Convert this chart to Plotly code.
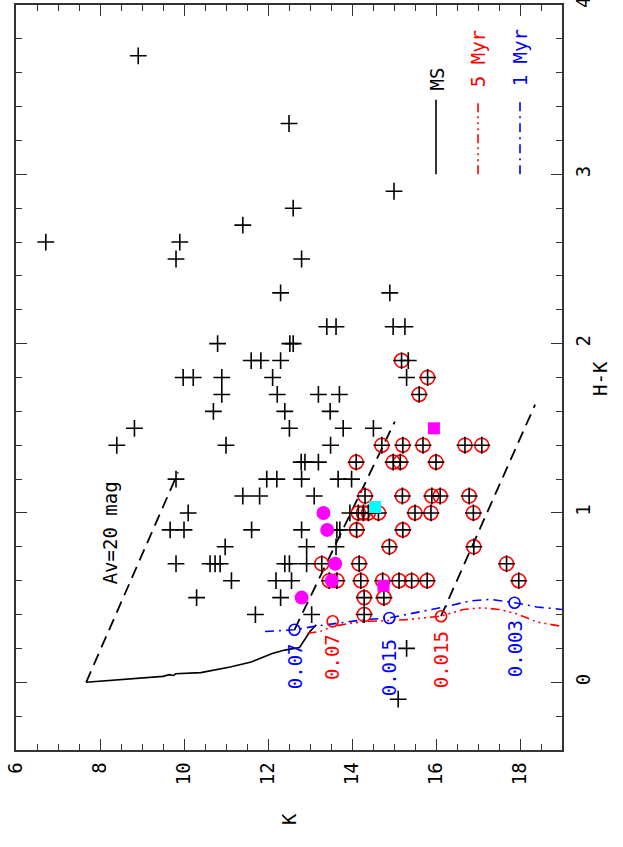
import plotly.graph_objects as go

# ---------------- data ----------------
plus_k = [8.91, 6.71, 9.90, 9.81, 12.50, 12.60, 11.40, 15.00, 12.80, 12.30, 14.90, 10.80,
          12.52, 12.60, 13.40, 13.62, 14.98, 15.26, 11.60, 11.83, 12.30, 15.34,
          9.98, 10.22, 10.90, 12.11, 15.30, 10.90, 12.22, 13.20, 13.70, 10.70, 12.40, 13.48,
          8.82, 12.51, 13.79, 14.51, 8.40, 11.00, 13.49, 12.79, 12.88, 13.20,
          9.81, 11.97, 12.21, 12.80, 13.67, 13.99, 11.40, 11.80, 13.10, 10.10, 13.95,
          9.67, 10.00, 11.61, 12.80, 13.64, 13.71, 10.98, 12.92, 13.62,
          9.81, 10.62, 10.74, 10.86, 12.40, 12.51, 12.92, 11.13, 12.19, 12.56,
          10.30, 12.30, 11.70, 13.04, 15.30, 15.10]
plus_hk = [3.70, 2.60, 2.60, 2.50, 3.30, 2.80, 2.70, 2.90, 2.50, 2.30, 2.30, 2.00,
           2.00, 2.00, 2.10, 2.10, 2.10, 2.10, 1.90, 1.90, 1.90, 1.90,
           1.80, 1.80, 1.80, 1.80, 1.80, 1.70, 1.70, 1.70, 1.70, 1.60, 1.60, 1.60,
           1.50, 1.50, 1.50, 1.50, 1.40, 1.40, 1.40, 1.30, 1.30, 1.30,
           1.20, 1.20, 1.20, 1.20, 1.20, 1.20, 1.10, 1.10, 1.10, 1.00, 1.00,
           0.90, 0.90, 0.90, 0.90, 0.90, 0.90, 0.80, 0.80, 0.80,
           0.70, 0.70, 0.70, 0.70, 0.70, 0.70, 0.70, 0.60, 0.60, 0.60,
           0.50, 0.50, 0.40, 0.40, 0.20, -0.10]

circ_k = [15.18, 15.80, 15.60, 14.71, 15.21, 15.69, 16.69, 17.09,
          14.10, 14.98, 15.15, 16.00,
          14.31, 15.20, 15.90, 16.10, 16.79,
          14.15, 14.27, 14.39, 14.63, 15.50, 15.88, 16.89,
          14.11, 15.21, 14.89, 16.90,
          13.28, 14.17, 17.68,
          13.46, 13.64, 14.21, 14.73, 15.12, 15.42, 15.79, 17.97,
          14.29, 14.76, 14.29]
circ_hk = [1.90, 1.80, 1.70, 1.40, 1.40, 1.40, 1.40, 1.40,
           1.30, 1.30, 1.30, 1.30,
           1.10, 1.10, 1.10, 1.10, 1.10,
           1.00, 1.00, 1.00, 1.00, 1.00, 1.00, 1.00,
           0.90, 0.90, 0.80, 0.80,
           0.70, 0.70, 0.70,
           0.60, 0.60, 0.60, 0.60, 0.60, 0.60, 0.60, 0.60,
           0.50, 0.50, 0.40]

mag_circ_k = [13.32, 13.41, 13.60, 13.52, 12.80]
mag_circ_hk = [1.00, 0.90, 0.70, 0.60, 0.50]
mag_sq_k = [15.95, 14.75]
mag_sq_hk = [1.50, 0.57]
cyan_sq_k = [14.55]
cyan_sq_hk = [1.035]

ms_k = [7.67, 8.60, 9.50, 9.65, 9.75, 9.80, 10.40, 11.10, 11.60, 12.10, 12.40, 12.75, 13.00, 13.15]
ms_hk = [0.00, 0.02, 0.035, 0.045, 0.04, 0.05, 0.057, 0.09, 0.12, 0.17, 0.19, 0.205, 0.30, 0.34]

iso1_k = [11.93, 12.63, 13.10, 13.70, 14.30, 14.89, 15.50, 16.20, 16.80, 17.30, 17.88, 18.40, 19.00]
iso1_hk = [0.30, 0.31, 0.33, 0.35, 0.37, 0.38, 0.41, 0.445, 0.48, 0.49, 0.47, 0.445, 0.43]

iso5_k = [12.94, 13.24, 13.54, 14.00, 14.43, 15.30, 15.70, 16.11, 16.65, 17.10, 17.50, 17.92, 18.40, 19.00]
iso5_hk = [0.29, 0.30, 0.33, 0.35, 0.36, 0.37, 0.38, 0.39, 0.43, 0.44, 0.43, 0.405, 0.356, 0.33]

av_k0 = [7.67, 12.63, 16.12]
av_hk0 = [0.00, 0.31, 0.39]
av_k1 = [9.86, 15.02, 18.36]
av_hk1 = [1.24, 1.54, 1.64]

mass_labels = ["0.07", "0.07", "0.015", "0.015", "0.003"]
mass_k = [12.63, 13.54, 14.89, 16.12, 17.87]
mass_hk = [0.31, 0.36, 0.38, 0.39, 0.47]
mass_track = ["1 Myr", "5 Myr", "1 Myr", "5 Myr", "1 Myr"]

legend_names = ["MS", "5 Myr", "1 Myr"]
x_ticks = [6, 8, 10, 12, 14, 16, 18]
y_ticks = [0, 1, 2, 3, 4]

# ---------------- styles ----------------
FONT = "DejaVu Sans Mono"
FS = 19
RED = "#ff0000"
BLUE = "#0000ff"
track_color = {"MS": "black", "5 Myr": RED, "1 Myr": BLUE}
track_dash = {"MS": "solid", "5 Myr": "9px,4px,2px,4px,2px,4px,2px,4px", "1 Myr": "9px,5px,2px,5px"}
label_shift = [-36, -36, -50, -44, -46]

fig = go.Figure()

# reddening vectors
for k0, h0, k1, h1 in zip(av_k0, av_hk0, av_k1, av_hk1):
    fig.add_trace(go.Scatter(x=[k0, k1], y=[h0, h1], mode="lines",
                             line=dict(color="black", width=1.8, dash="12px,7px"),
                             hoverinfo="skip"))

# tracks
fig.add_trace(go.Scatter(x=ms_k, y=ms_hk, mode="lines",
                         line=dict(color="black", width=1.6), hoverinfo="skip"))
fig.add_trace(go.Scatter(x=iso5_k, y=iso5_hk, mode="lines",
                         line=dict(color=RED, width=1.6, dash=track_dash["5 Myr"])))
fig.add_trace(go.Scatter(x=iso1_k, y=iso1_hk, mode="lines",
                         line=dict(color=BLUE, width=1.6, dash=track_dash["1 Myr"])))

# mass label circles
fig.add_trace(go.Scatter(x=mass_k, y=mass_hk, mode="markers",
                         marker=dict(symbol="circle-open", size=11,
                                     color=[track_color[t] for t in mass_track],
                                     line=dict(width=1.6))))

# circled sources
fig.add_trace(go.Scatter(x=circ_k, y=circ_hk, mode="markers",
                         marker=dict(symbol="circle-open", size=14, color=RED,
                                     line=dict(width=1.6, color=RED))))
fig.add_trace(go.Scatter(x=circ_k, y=circ_hk, mode="markers",
                         marker=dict(symbol="cross-thin", size=12,
                                     line=dict(width=1.6, color="black"))))
# plain sources
fig.add_trace(go.Scatter(x=plus_k, y=plus_hk, mode="markers",
                         marker=dict(symbol="cross-thin", size=12,
                                     line=dict(width=1.6, color="black"))))
# magenta / cyan
fig.add_trace(go.Scatter(x=mag_circ_k, y=mag_circ_hk, mode="markers",
                         marker=dict(symbol="circle", size=14, color="#ff00ff")))
fig.add_trace(go.Scatter(x=mag_sq_k, y=mag_sq_hk, mode="markers",
                         marker=dict(symbol="square", size=12, color="#ff00ff")))
fig.add_trace(go.Scatter(x=cyan_sq_k, y=cyan_sq_hk, mode="markers",
                         marker=dict(symbol="square", size=12, color="#00ffff")))

# mass labels
for lab, k, h, t, s in zip(mass_labels, mass_k, mass_hk, mass_track, label_shift):
    fig.add_annotation(x=k, y=h, text=lab, showarrow=False, textangle=-90, yshift=s,
                       font=dict(family=FONT, size=FS, color=track_color[t]))

# Av label
fig.add_annotation(x=8.24, y=0.88, text="Av=20 mag", showarrow=False, textangle=-90,
                   font=dict(family=FONT, size=FS, color="black"))

# legend (rotated, drawn in the plot)
leg_x = [16.0, 17.0, 18.0]
leg_text_y = [3.56, 3.68, 3.685]
for name, lx, ty in zip(legend_names, leg_x, leg_text_y):
    fig.add_shape(type="line", x0=lx, x1=lx, y0=3.0, y1=3.44, xref="x", yref="y",
                  line=dict(color=track_color[name], width=1.6, dash=track_dash[name]))
    fig.add_annotation(x=lx, y=ty, text=name, showarrow=False, textangle=-90,
                       font=dict(family=FONT, size=FS, color=track_color[name]))

W, H = 623, 847
ML, MR, MT, MB = 16, 61, 5, 97
pw, ph = W - ML - MR, H - MT - MB

# axis titles (pixel positions converted to paper coords)
fig.add_annotation(x=(289 - ML) / pw, y=(H - MB - 827) / ph, xref="paper", yref="paper",
                   text="K", showarrow=False, textangle=-90,
                   font=dict(family=FONT, size=FS, color="black"))
fig.add_annotation(x=(613 - ML) / pw, y=(H - MB - 378) / ph, xref="paper", yref="paper",
                   text="H-K", showarrow=False, textangle=-90,
                   font=dict(family=FONT, size=FS, color="black"))

axis_common = dict(showgrid=False, zeroline=False, showline=True, linecolor="#333",
                   linewidth=1.5, mirror="allticks", ticks="inside", tickcolor="#333",
                   tickwidth=1.3, tickangle=-90, ticklabelstandoff=3, automargin=False,
                   ticklabeloverflow="allow",
                   tickfont=dict(family=FONT, size=FS, color="black"))

fig.update_layout(
    width=W, height=H, showlegend=False,
    margin=dict(l=ML, r=MR, t=MT, b=MB),
    paper_bgcolor="white", plot_bgcolor="white",
    xaxis=dict(range=[6, 19], tickvals=x_ticks, ticklen=11,
               minor=dict(dtick=0.5, ticklen=6, ticks="inside", tickcolor="#333", tickwidth=1.3),
               **axis_common),
    yaxis=dict(range=[-0.4, 4.0], tickvals=y_ticks, ticklen=11, side="right",
               minor=dict(dtick=0.2, ticklen=6, ticks="inside", tickcolor="#333", tickwidth=1.3),
               **axis_common),
)

fig.write_html("out.html", config={"displayModeBar": False},
               post_script="document.body.style.margin='0';document.body.style.overflow='hidden';")
